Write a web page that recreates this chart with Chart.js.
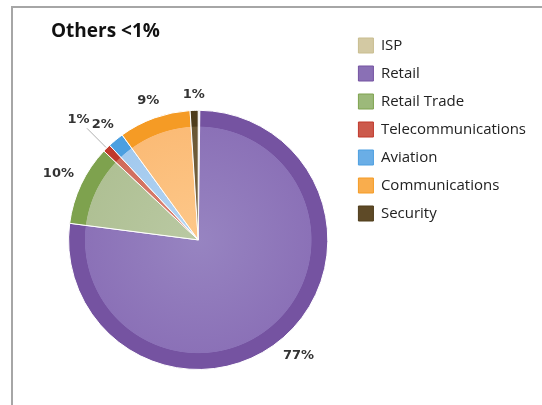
<!DOCTYPE html>
<html>
<head>
<meta charset="utf-8">
<script src="https://cdn.jsdelivr.net/npm/chart.js@4"></script>
<style>
  body { margin: 0; background: #fff; }
  #wrap { position: relative; width: 542px; height: 405px; }
  #frame {
    position: absolute; left: 11px; top: 6px; right: 0; bottom: 0;
    border-top: 2px solid #a6a6a6; border-left: 2px solid #a6a6a6;
  }
  #sectorChart { position: absolute; left: 0; top: 0; }
</style>
</head>
<body>
<div id="wrap">
  <div id="frame"></div>
  <canvas id="sectorChart" width="542" height="405"></canvas>
</div>
<script>
// share of customers by sector, in percent
const sectors = ['ISP', 'Retail', 'Retail Trade', 'Telecommunications', 'Aviation', 'Communications', 'Security'];
const shares = [0.2, 77, 10, 1, 2, 9, 1];

// colours: outer rim, inner fill (centre -> rim), legend swatch
const rimColors = ['#c9bd8f', '#7553a1', '#7ea24e', '#c0392b', '#4c9fe0', '#f59b25', '#4e3c1b'];
const fillLight = ['#ddd5b5', '#9784c1', '#bac9a3', '#dc8a7a', '#b5d5f2', '#fdc88a', '#7a6743'];
const fillDark  = ['#d3c9a3', '#8b71b7', '#afc094', '#d06a5a', '#a2c9ee', '#fbbb76', '#6a5734'];
const swatches  = ['#d3c9a3', '#8a70b5', '#9cb97a', '#cc5a4c', '#6aaee6', '#f9ad4d', '#5e4a27'];

Chart.defaults.font.family = "'Open Sans', sans-serif";

// slices get a light body and a darker band along the rim
function sliceFill(context) {
    const chart = context.chart;
    const area = chart.chartArea;
    const i = context.dataIndex;
    const ctrl = chart.getDatasetMeta(context.datasetIndex).controller;
    if (!area || !ctrl.outerRadius) return fillDark[i];
    const cx = (area.left + area.right) / 2;
    const cy = (area.top + area.bottom) / 2;
    const g = chart.ctx.createRadialGradient(cx, cy, 0, cx, cy, ctrl.outerRadius);
    g.addColorStop(0, fillLight[i]);
    g.addColorStop(0.872, fillDark[i]);
    g.addColorStop(0.877, rimColors[i]);
    g.addColorStop(1, rimColors[i]);
    return g;
}

// percentage labels outside the pie, with a pointer line where asked
const sliceLabels = {
    id: 'sliceLabels',
    afterDatasetsDraw(chart, args, opts) {
        const ctx = chart.ctx;
        const meta = chart.getDatasetMeta(0);
        const values = chart.data.datasets[0].data;
        ctx.save();
        ctx.font = opts.font;
        ctx.fillStyle = opts.color;
        ctx.textAlign = 'center';
        ctx.textBaseline = 'middle';
        meta.data.forEach((arc, i) => {
            const v = values[i];
            if (v < 0.5) return;
            const p = arc.getProps(['x', 'y', 'startAngle', 'endAngle', 'outerRadius'], true);
            const mid = (p.startAngle + p.endAngle) / 2;
            const dx = Math.cos(mid), dy = Math.sin(mid);
            const text = v + '%';
            const w = ctx.measureText(text).width;
            let dist = p.outerRadius + opts.gap + Math.abs(dx) * w / 2 + Math.abs(dy) * 7;
            if (opts.pointer.includes(chart.data.labels[i])) {
                ctx.save();
                ctx.strokeStyle = '#9a9a9a';
                ctx.lineWidth = 0.8;
                ctx.beginPath();
                ctx.moveTo(p.x + dx * (p.outerRadius + 1), p.y + dy * (p.outerRadius + 1));
                ctx.lineTo(p.x + dx * (p.outerRadius + 28), p.y + dy * (p.outerRadius + 28));
                ctx.stroke();
                ctx.restore();
                dist = p.outerRadius + 40;
            }
            ctx.fillText(text, p.x + dx * dist, p.y + dy * dist);
        });
        ctx.restore();
    }
};

const ctx = document.getElementById('sectorChart').getContext('2d');
new Chart(ctx, {
    type: 'pie',
    data: {
        labels: sectors,
        datasets: [{
            data: shares,
            backgroundColor: sliceFill,
            borderColor: '#ffffff',
            borderWidth: 1
        }]
    },
    plugins: [sliceLabels],
    options: {
        responsive: false,
        animation: false,
        events: [],
        layout: {
            padding: { top: 25, left: 51, right: 6, bottom: 35 }
        },
        plugins: {
            title: {
                display: true,
                text: 'Others <1%',
                align: 'start',
                color: '#111',
                font: { size: 19, weight: 'bold' },
                padding: { top: -5, bottom: 67 }
            },
            legend: {
                position: 'right',
                align: 'start',
                labels: {
                    boxWidth: 15,
                    boxHeight: 15,
                    padding: 13,
                    color: '#222',
                    font: { size: 15 },
                    generateLabels(chart) {
                        const items = Chart.overrides.pie.plugins.legend.labels.generateLabels(chart);
                        items.forEach((item, i) => {
                            item.fillStyle = swatches[i];
                            item.strokeStyle = rimColors[i];
                            item.lineWidth = 1;
                        });
                        return items;
                    }
                }
            },
            tooltip: { enabled: false },
            sliceLabels: {
                font: "bold 13px 'DejaVu Sans', sans-serif",
                color: '#333',
                gap: 8,
                pointer: ['Telecommunications']
            }
        }
    }
});
</script>
</body>
</html>
